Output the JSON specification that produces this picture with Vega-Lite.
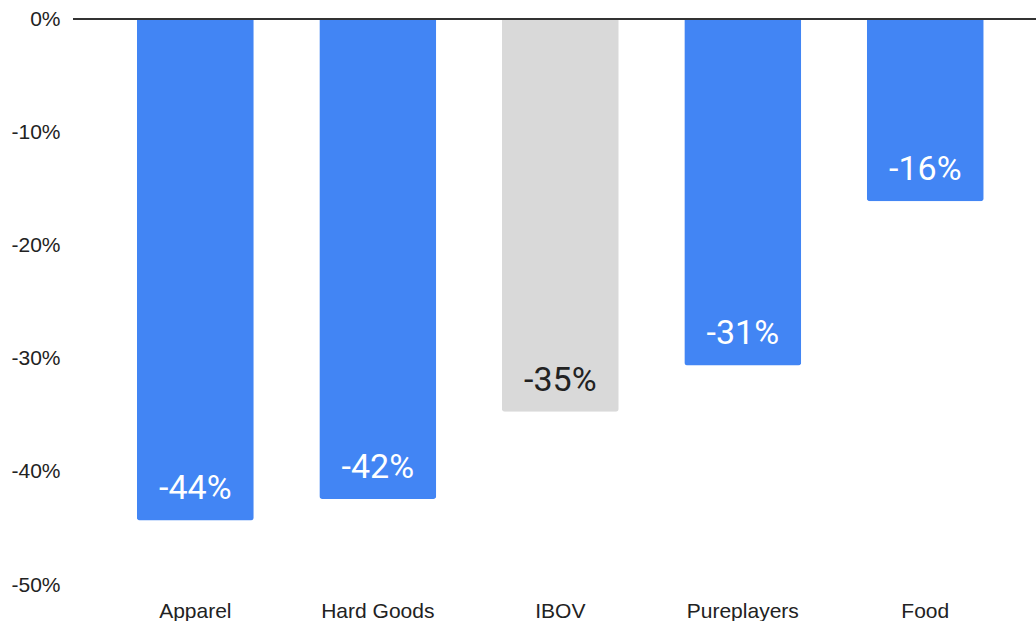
{
  "$schema": "https://vega.github.io/schema/vega-lite/v6.json",
  "width": 963,
  "height": 566,
  "autosize": {"type": "none"},
  "padding": {"left": 73, "top": 19, "right": 0, "bottom": 36},
  "config": {
    "view": {"stroke": null},
    "locale": {"number": {"decimal": ".", "thousands": ",", "grouping": [3], "currency": ["$", ""], "minus": "-"}}
  },
  "data": {
    "values": [
      {"category": "Apparel", "value": -0.443, "type": "sector"},
      {"category": "Hard Goods", "value": -0.424, "type": "sector"},
      {"category": "IBOV", "value": -0.347, "type": "index"},
      {"category": "Pureplayers", "value": -0.306, "type": "sector"},
      {"category": "Food", "value": -0.161, "type": "sector"}
    ]
  },
  "layer": [
    {
      "mark": {"type": "bar", "cornerRadiusBottomLeft": 3, "cornerRadiusBottomRight": 3},
      "encoding": {
        "x": {
          "field": "category",
          "type": "nominal",
          "sort": null,
          "scale": {"paddingInner": 0.359, "paddingOuter": 0.318, "align": 0.55},
          "axis": {
            "title": null,
            "labelAngle": 0,
            "labelFont": "Liberation Sans",
            "labelFontSize": 21,
            "labelColor": "#222222",
            "domain": false,
            "ticks": false,
            "tickSize": 0,
            "labelBaseline": "alphabetic",
            "labelPadding": 32
          }
        },
        "y": {
          "field": "value",
          "type": "quantitative",
          "scale": {"domain": [-0.5, 0], "nice": false},
          "axis": {
            "title": null,
            "values": [0, -0.1, -0.2, -0.3, -0.4, -0.5],
            "format": ".0%",
            "labelFont": "Liberation Sans",
            "labelFontSize": 21,
            "labelColor": "#222222",
            "domain": false,
            "ticks": false,
            "tickSize": 0,
            "grid": false,
            "labelPadding": 13
          }
        },
        "color": {
          "field": "type",
          "type": "nominal",
          "scale": {"domain": ["sector", "index"], "range": ["#4285F4", "#D9D9D9"]},
          "legend": null
        }
      }
    },
    {
      "mark": {"type": "text", "baseline": "alphabetic", "align": "center", "dy": -21, "font": "Roboto", "fontSize": 34},
      "encoding": {
        "x": {"field": "category", "type": "nominal", "sort": null},
        "y": {"field": "value", "type": "quantitative"},
        "text": {"field": "value", "type": "quantitative", "format": ".0%"},
        "color": {"condition": {"test": "datum.type === 'index'", "value": "#222222"}, "value": "#ffffff"}
      }
    },
    {
      "mark": {"type": "rule", "color": "#333333", "strokeWidth": 2},
      "encoding": {"y": {"datum": 0}}
    }
  ]
}
